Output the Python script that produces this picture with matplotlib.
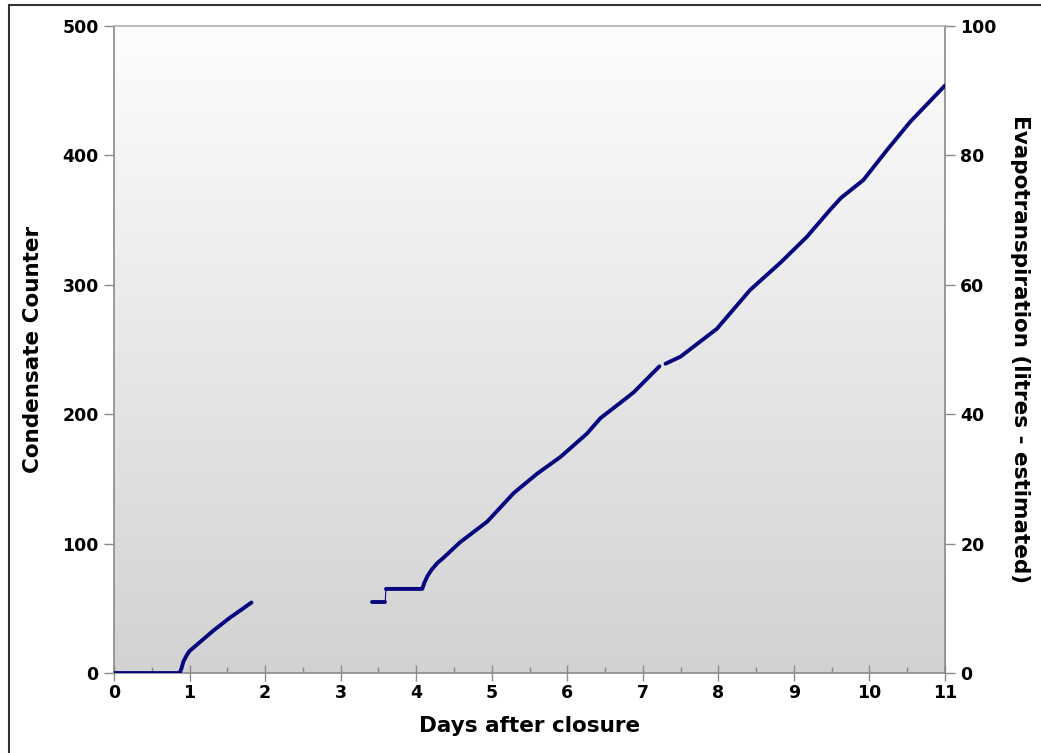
import numpy as np
import matplotlib
matplotlib.use("Agg")
import matplotlib.pyplot as plt
from matplotlib.colors import LinearSegmentedColormap
from matplotlib.patches import Rectangle
from matplotlib.ticker import MultipleLocator

# Condensate counter readings (days after closure, counter value), logged in runs
days_a = [0.0, 0.5, 0.87, 0.89, 0.92, 0.96, 1.00, 1.10, 1.32, 1.54, 1.70,
          1.82]
count_a = [0, 0, 0, 3, 9, 13.5, 17, 22, 33, 43, 49.5, 54.5]

days_b = [3.42, 3.59]
count_b = [55, 55]

days_c = [3.60, 4.08, 4.11, 4.15, 4.20, 4.28, 4.36, 4.58, 4.94, 5.29, 5.60,
          5.91, 6.26, 6.44, 6.75, 6.88, 7.22]
count_c = [65, 65, 70, 75, 79.5, 85, 89, 101, 117, 139, 154,
           167, 185, 197, 211, 217, 237]

days_d = [7.30, 7.50, 7.98, 8.42, 8.82, 9.17, 9.48, 9.62, 9.92, 10.23,
          10.54, 11.0]
count_d = [239, 244.5, 266, 296, 317, 337, 358, 367, 381, 404, 426, 454]

x_ticks = list(range(0, 12))
left_ticks = [0, 100, 200, 300, 400, 500]
right_ticks = [0, 20, 40, 60, 80, 100]

LINE = "#06067e"
SPINE = "#8a8a8a"
plt.rcParams["font.family"] = ["DejaVu Sans"]
plt.rcParams["font.weight"] = "bold"
plt.rcParams["axes.labelweight"] = "bold"

fig = plt.figure(figsize=(10.41, 7.53), dpi=100)
ax = fig.add_axes([0.1095, 0.1062, 0.7983, 0.8593])

# vertical grey gradient behind the plot area
grad = LinearSegmentedColormap.from_list("bg", ["#d2d2d2", "#fdfdfd"])
ax.imshow(np.linspace(0, 1, 256).reshape(-1, 1), cmap=grad, aspect="auto",
          origin="lower", extent=[0, 1, 0, 1], transform=ax.transAxes,
          zorder=0)

segments = [(days_a, count_a), (days_b, count_b), (days_c, count_c),
            (days_d, count_d)]
for dx, cy in segments:
    ax.plot(dx, cy, color=LINE, lw=2.8, solid_capstyle="round",
            solid_joinstyle="round", zorder=3)
# thin step between the two short runs
ax.plot([days_b[-1], days_c[0]], [count_b[-1], count_c[0]], color=LINE,
        lw=0.8, zorder=3)

ax.set_xlim(0, 11)
ax.set_ylim(0, 500)
ax.set_xticks(x_ticks)
ax.xaxis.set_minor_locator(MultipleLocator(0.5))
ax.set_yticks(left_ticks)

for s in ax.spines.values():
    s.set_color(SPINE)
    s.set_linewidth(1.2)
ax.spines["top"].set_color("#b0b0b0")

ax.tick_params(axis="x", which="major", direction="inout", length=12,
               width=1.0, color=SPINE, labelsize=12.5, pad=2)
ax.tick_params(axis="x", which="minor", direction="in", length=4,
               width=1.0, color=SPINE)
ax.tick_params(axis="y", direction="out", length=7, width=1.0, color=SPINE,
               labelsize=12.5, pad=4)

ax.set_xlabel("Days after closure", fontsize=15.5, labelpad=10)
ax.set_ylabel("Condensate Counter", fontsize=15.5, labelpad=14)

ax2 = ax.twinx()
ax2.set_ylim(0, 100)
ax2.set_yticks(right_ticks)
for s in ax2.spines.values():
    s.set_visible(False)
ax2.tick_params(axis="y", direction="out", length=7, width=1.0, color=SPINE,
                labelsize=12.5, pad=4)
ax2.set_ylabel("Evapotranspiration (litres - estimated)", fontsize=15.5,
               rotation=-90, labelpad=24)

# frame around the figure
fig.patches.append(Rectangle((9 / 1041, -0.05), 1.2, 1 - 5 / 753 + 0.05,
                             transform=fig.transFigure, fill=False,
                             edgecolor="#333333", lw=1.5))

fig.savefig("out.png", dpi=100)
